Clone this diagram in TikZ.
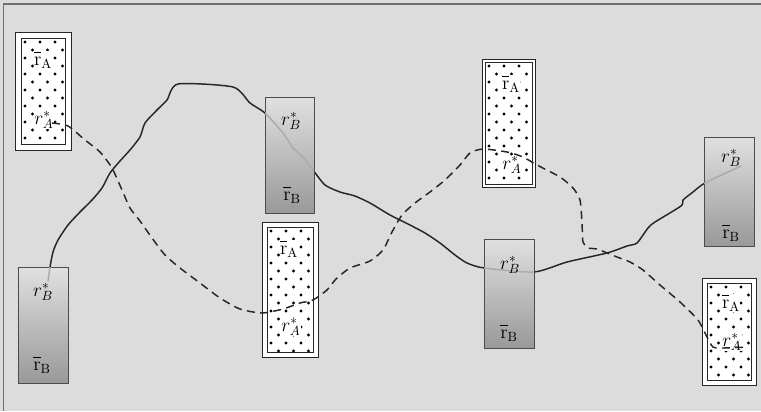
\documentclass[tikz,border=0pt]{standalone}
\usetikzlibrary{calc}
\definecolor{bgc}{HTML}{DCDCDC}
\definecolor{framec}{HTML}{6E6E6E}
\tikzset{
  boxline/.style={draw=black!85, line width=0.7pt},
  bboxline/.style={draw=black!70, line width=0.7pt},
  lab/.style={inner sep=0.3pt, font=\fontsize{14}{16}\selectfont},
  solidc/.style={line width=1.1pt, draw=black!85, line join=round, line cap=round},
  dashc/.style={line width=1.1pt, draw=black!85, dash pattern=on 6pt off 4pt, line join=round},
  grayc/.style={line width=1.1pt, draw=black!33, line join=round, line cap=round},
}
\newcommand\ABox[5]{% x1 y1 x2 y2 gap
  \draw[boxline, fill=white] (#1,#2) rectangle (#3,#4);
  \draw[boxline] (#1+#5,#2+#5) rectangle (#3-#5,#4-#5);
  \begin{scope}
    \clip (#1+#5,#2+#5) rectangle (#3-#5,#4-#5);
    \foreach \j in {0,...,17} {
      \foreach \i in {0,...,4} {
        \fill ({#1+#5+4+mod(\j,2)*7.5+15*\i},{#2+#5+4+8*\j}) circle[radius=1.25pt];
      }
    }
  \end{scope}
}
\newcommand\BBox[4]{% x1 y1 x2 y2
  \shade[top color=black!12, middle color=black!5, bottom color=black!40] (#1,#2) rectangle (#3,#4);
  \draw[bboxline] (#1,#2) rectangle (#3,#4);
}
\newcommand\rbar[1]{\overline{\vphantom{\mathrm{t}}\mathrm{r}}_{\mathrm{#1}}}
\newcommand\SolidPath{plot[smooth,tension=0.4] coordinates {
  (48,281) (50,267) (53,252) (58,240) (68,225) (80,212) (92,200) (102,188)
  (110,173) (120,161) (130,150) (140,137) (145,123) (157,110) (167,100) (178,84)
  (233,87) (250,103) (265,113) (283,133) (293,148) (303,157) (313,170)
  (325,185) (340,192) (355,196) (370,203) (390,215) (410,225) (425,233)
  (440,243) (455,255) (467,263) (484,268) (534,272) (567,262) (607,253)
  (627,246) (637,243) (648,228) (655,222) (681,206) (683,200) (693,192)
  (705,183) (741,166)}}
\begin{document}
\begin{tikzpicture}[x=0.75pt,y=-0.75pt]
\useasboundingbox (0,0) rectangle (761,411);
\fill[bgc] (0,0) rectangle (761,411);
\draw[framec, line width=1.1pt] (3.5,411) -- (3.5,4) -- (761,4);

% solid curve (black part)
\draw[solidc] \SolidPath;

% B boxes
\BBox{265}{97}{314}{213}
\BBox{484}{239}{534}{348}
\BBox{704}{137}{754}{246}
\BBox{18}{267}{68}{383}

% gray parts of the solid curve inside the B boxes
\foreach \xa/\ya/\xb/\yb in {265/97/314/213, 484/239/534/348, 704/137/754/246, 18/267/68/383} {
  \begin{scope}
    \clip (\xa,\ya) rectangle (\xb,\yb);
    \draw[grayc] \SolidPath;
  \end{scope}
}

% A boxes
\ABox{15}{32}{71}{150}{6}
\ABox{262}{222}{318}{357}{5}
\ABox{482}{59}{535}{187}{3}
\ABox{702}{278}{756}{385}{5}

% labels
\node[lab, fill=white] (a1t) at (43,60) {$\rbar{A}$};
\node[lab, fill=white] (a1b) at (44,120) {$r^*_A$};
\node[lab, fill=white] (a2t) at (289,249) {$\rbar{A}$};
\node[lab, fill=white] (a2b) at (291,327) {$r^*_A$};
\node[lab, fill=white] (a3t) at (511,84) {$\rbar{A}$};
\node[lab, fill=white] (a3b) at (512,165) {$r^*_A$};
\node[lab, fill=white] (a4t) at (731,303) {$\rbar{A}$};
\node[lab, fill=white] (a4b) at (732,342) {$r^*_A$};

\node[lab] (b1t) at (291,121) {$r^*_B$};
\node[lab] (b1b) at (292,195) {$\rbar{B}$};
\node[lab] (b2t) at (510,265) {$r^*_B$};
\node[lab] (b2b) at (509,333) {$\rbar{B}$};
\node[lab] (b3t) at (731,158) {$r^*_B$};
\node[lab] (b3b) at (731,233) {$\rbar{B}$};
\node[lab] (b4t) at (43,292) {$r^*_B$};
\node[lab] (b4b) at (42,365) {$\rbar{B}$};

% dashed curve
\draw[dashc] plot[smooth,tension=0.4] coordinates {
  (52,123) (68,126) (85,140) (100,152) (112,168) (122,190) (130,208) (140,221)
  (152,238) (165,255) (180,268) (200,283) (220,298) (240,309) (262,313)
  (283,309) (300,303) (313,300) (327,290) (336,279) (350,268) (370,261)
  (383,250) (392,232) (402,215) (415,203) (430,192) (445,180) (460,165)
  (470,153) (483,149) (507,152) (523,157) (537,165) (560,177) (573,188)
  (580,200) (582,223) (583,242) (588,248) (597,249) (617,257) (630,262)
  (643,270) (660,285) (680,302) (698,320) (707,337) (713,347) (723,348) (748,347)};
\end{tikzpicture}
\end{document}
